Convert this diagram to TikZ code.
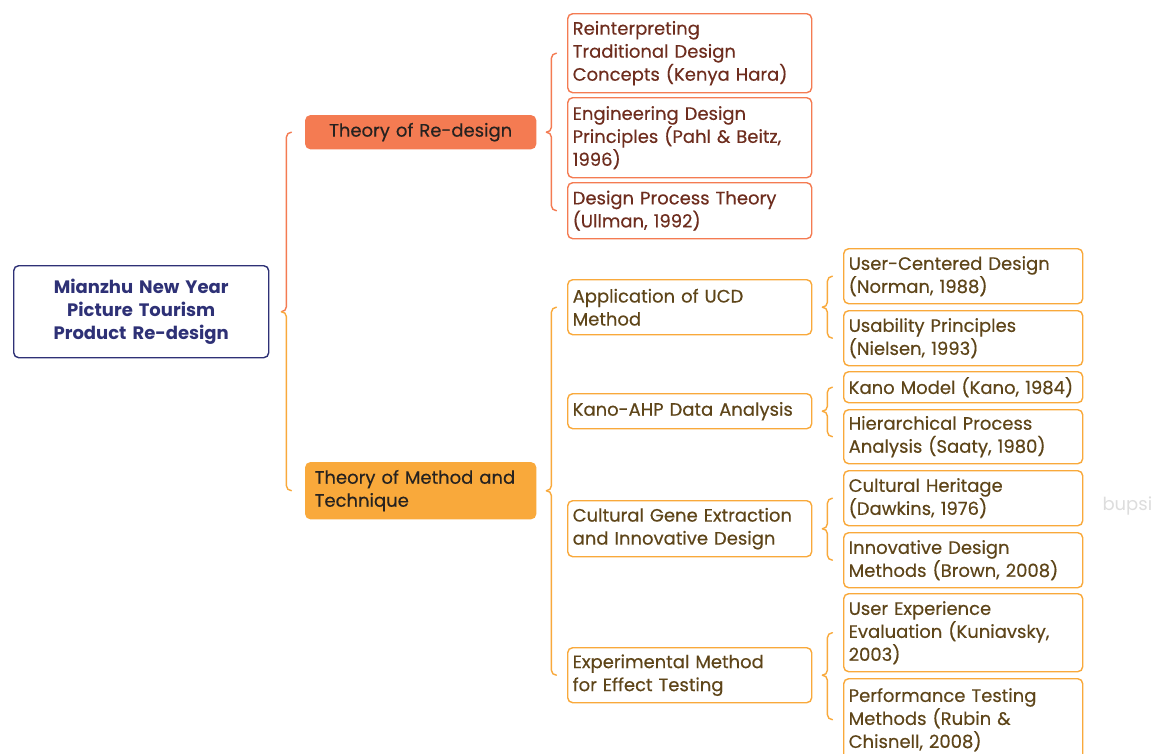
\documentclass[tikz,border=0pt]{standalone}
\usepackage{fontspec}
\setmainfont{Poppins}[FakeBold=0.35]
\newfontfamily\rootfont{Poppins}
\usetikzlibrary{calc}
\definecolor{navy}{HTML}{2E3176}
\definecolor{redc}{HTML}{F47B52}
\definecolor{orac}{HTML}{F9A93B}
\definecolor{redtxt}{HTML}{6E2D1E}
\definecolor{oratxt}{HTML}{5E4519}
\definecolor{darktxt}{HTML}{262220}
\definecolor{wmark}{HTML}{DDDDDD}
\newcommand{\bracelink}[6]{%
  % #1 top colour, #2 bottom colour, #3 parent, #4 first child, #5 last child, #6 offset
  \draw[bracel,#1] let \p1=(#3.east), \p2=(#4.west), \p3=(#5.west) in
    (\x1+#6pt+5pt,\y2) to[out=180,in=90] (\x1+#6pt,\y2-5pt) -- (\x1+#6pt,\y1+5pt)
    to[out=-90,in=0] (\x1+#6pt-5pt,\y1);
  \draw[bracel,#2] let \p1=(#3.east), \p2=(#4.west), \p3=(#5.west) in
    (\x1+#6pt-5pt,\y1) to[out=0,in=90] (\x1+#6pt,\y1-5pt) -- (\x1+#6pt,\y3+5pt)
    to[out=-90,in=180] (\x1+#6pt+5pt,\y3);
}
\begin{document}
\begin{tikzpicture}[x=1pt,y=-1pt,
  base/.style={rounded corners=5pt, line width=1.4pt, inner xsep=5pt, inner ysep=0pt,
    font=\fontsize{18}{23}\selectfont, align=left, anchor=north west},
  rootbox/.style={base, draw=navy, text=navy, align=center, text width=245pt,
    minimum width=255pt, font=\rootfont\fontsize{18}{23}\selectfont\bfseries, minimum height=92pt},
  lonebox/.style={base, fill=#1, draw=#1, text=darktxt, inner xsep=9pt, text width=212pt, minimum width=230pt},
  redbox/.style={base, draw=redc, text=redtxt, text width=234pt, minimum width=244pt},
  orabox/.style={base, draw=orac, text=oratxt, text width=234pt, minimum width=244pt},
  leafbox/.style={base, draw=orac, text=oratxt, text width=229pt, minimum width=239pt},
  bracel/.style={line width=1.4pt, line cap=round}
]
\useasboundingbox[fill=white] (0,0) rectangle (1165,753);

% root
\node[rootbox] (root) at (13,265) {Mianzhu New Year\\Picture Tourism\\Product Re-design};

% level 1
\node[lonebox=redc, align=center, minimum height=33pt] (redesign) at (305,115) {Theory of Re-design};
\node[lonebox=orac, minimum height=56pt] (method) at (305,462) {Theory of Method and\\Technique};

% level 2 red
\node[redbox, minimum height=79pt] (r1) at (567,13) {Reinterpreting\\Traditional Design\\Concepts (Kenya Hara)};
\node[redbox, minimum height=80pt] (r2) at (567,97) {Engineering Design\\Principles (Pahl \& Beitz,\\1996)};
\node[redbox, minimum height=56pt] (r3) at (567,182) {Design Process Theory\\(Ullman, 1992)};

% level 2 orange
\node[orabox, minimum height=55pt] (ucd) at (567,279) {Application of UCD\\Method};
\node[orabox, minimum height=35pt] (kano) at (567,393) {Kano-AHP Data Analysis};
\node[orabox, minimum height=56pt] (gene) at (567,500) {Cultural Gene Extraction\\and Innovative Design};
\node[orabox, minimum height=55pt] (exp) at (567,647) {Experimental Method\\for Effect Testing};

% level 3
\node[leafbox, minimum height=55pt] (l1) at (843,248) {User-Centered Design\\(Norman, 1988)};
\node[leafbox, minimum height=55pt] (l2) at (843,310) {Usability Principles\\(Nielsen, 1993)};
\node[leafbox, minimum height=31pt] (l3) at (843,371) {Kano Model (Kano, 1984)};
\node[leafbox, minimum height=54pt] (l4) at (843,409) {Hierarchical Process\\Analysis (Saaty, 1980)};
\node[leafbox, minimum height=55pt] (l5) at (843,470) {Cultural Heritage\\(Dawkins, 1976)};
\node[leafbox, minimum height=55pt] (l6) at (843,532) {Innovative Design\\Methods (Brown, 2008)};
\node[leafbox, minimum height=78pt] (l7) at (843,593) {User Experience\\Evaluation (Kuniavsky,\\2003)};
\node[leafbox, minimum height=82pt] (l8) at (843,678) {Performance Testing\\Methods (Rubin \&\\Chisnell, 2008)};

% watermark
\node[text=wmark, font=\rootfont\fontsize{18}{20}\selectfont, anchor=west] (wm) at (1099,506) {bupsi};

% braces
\bracelink{redc}{orac}{root}{redesign}{method}{17}
\bracelink{redc}{redc}{redesign}{r1}{r3}{15}
\bracelink{orac}{orac}{method}{ucd}{exp}{15}
\bracelink{orac}{orac}{ucd}{l1}{l2}{15}
\bracelink{orac}{orac}{kano}{l3}{l4}{15}
\bracelink{orac}{orac}{gene}{l5}{l6}{15}
\bracelink{orac}{orac}{exp}{l7}{l8}{15}
\end{tikzpicture}
\end{document}
